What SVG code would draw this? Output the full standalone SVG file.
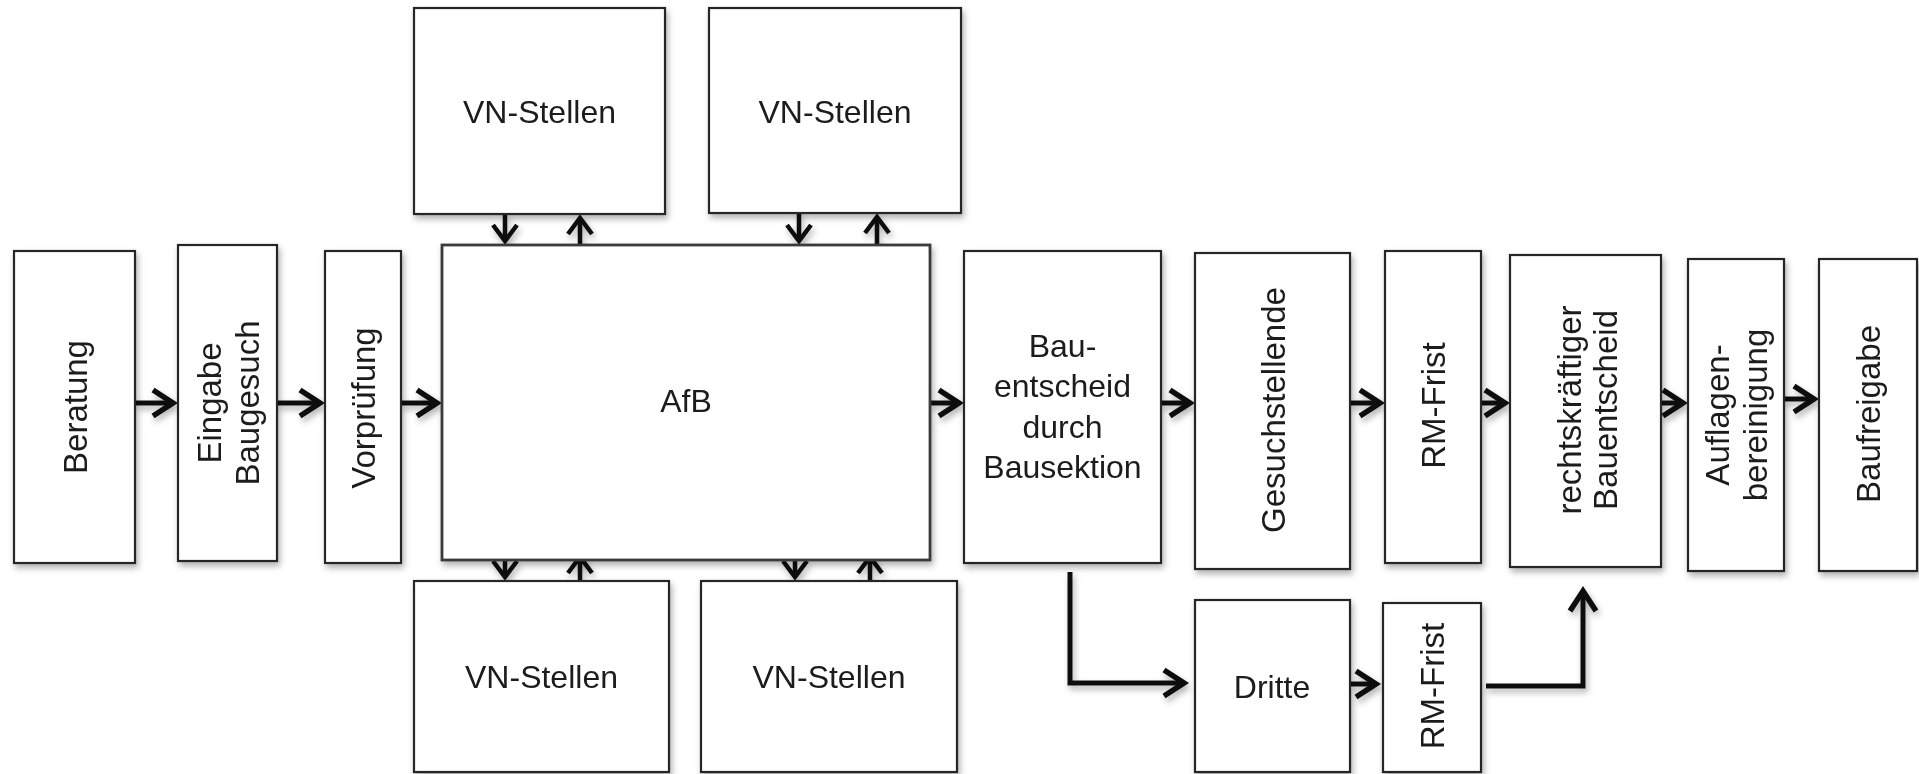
<svg xmlns="http://www.w3.org/2000/svg" width="1919" height="774" viewBox="0 0 1919 774">
<defs>
<filter id="sh" x="-10%" y="-10%" width="130%" height="130%">
<feDropShadow dx="2" dy="4" stdDeviation="3" flood-color="#000" flood-opacity="0.3"/>
</filter>
<marker id="arr" markerUnits="userSpaceOnUse" markerWidth="32" markerHeight="32" viewBox="0 0 32 32" refX="23" refY="16" orient="auto" overflow="visible">
<path d="M3,3 L23,16 L3,29" fill="none" stroke="#111" stroke-width="5.5"/>
</marker>
<marker id="arrS" markerUnits="userSpaceOnUse" markerWidth="28" markerHeight="28" viewBox="0 0 28 28" refX="20" refY="14" orient="auto" overflow="visible">
<path d="M4,2 L20,14 L4,26" fill="none" stroke="#111" stroke-width="4.5"/>
</marker>
</defs>
<style>
.box{fill:#fff;stroke:#262626;stroke-width:2.2}
.big{fill:#fff;stroke:#3a3a3a;stroke-width:2.8}
.t{font-family:"Liberation Sans",Arial,sans-serif;font-size:32px;fill:#1a1a1a;text-anchor:middle}
.r{font-family:"Liberation Sans",Arial,sans-serif;font-size:33px;fill:#1a1a1a;text-anchor:middle}
.c{fill:none;stroke:#111;stroke-width:5}
.cs{fill:none;stroke:#111;stroke-width:4.5}
</style>
<rect width="1919" height="774" fill="#fff"/>

<g id="connectors" filter="url(#sh)">
<path class="c" d="M135,403 H173" marker-end="url(#arr)"/>
<path class="c" d="M277,403 H320" marker-end="url(#arr)"/>
<path class="c" d="M401,403 H437" marker-end="url(#arr)"/>
<path class="c" d="M930,403 H959" marker-end="url(#arr)"/>
<path class="c" d="M1161,403 H1190" marker-end="url(#arr)"/>
<path class="c" d="M1350,403 H1380" marker-end="url(#arr)"/>
<path class="c" d="M1481,403 H1505" marker-end="url(#arr)"/>
<path class="c" d="M1661,403 H1683" marker-end="url(#arr)"/>
<path class="c" d="M1784,399 H1814" marker-end="url(#arr)"/>
<path class="cs" d="M505,214 V241" marker-end="url(#arrS)"/>
<path class="cs" d="M580,245 V218" marker-end="url(#arrS)"/>
<path class="cs" d="M799,213 V241" marker-end="url(#arrS)"/>
<path class="cs" d="M877,245 V217" marker-end="url(#arrS)"/>
<path class="cs" d="M505,560 V577" marker-end="url(#arrS)"/>
<path class="cs" d="M580,581 V557" marker-end="url(#arrS)"/>
<path class="cs" d="M795,560 V577" marker-end="url(#arrS)"/>
<path class="cs" d="M870,581 V557" marker-end="url(#arrS)"/>
<path class="c" d="M1070,572 V683 H1184" marker-end="url(#arr)"/>
<path class="c" d="M1350,684 H1376" marker-end="url(#arr)"/>
<path class="c" d="M1486,686 H1583 V591" marker-end="url(#arr)"/>
</g>

<g id="beratung" filter="url(#sh)">
<rect class="box" x="14" y="251" width="121" height="312"/>
<text class="r" transform="translate(74.5,407) rotate(-90)" x="0" y="12">Beratung</text>
</g>
<g id="eingabe-baugesuch" filter="url(#sh)">
<rect class="box" x="178" y="245" width="99" height="316"/>
<text class="r" transform="translate(227.5,403) rotate(-90)"><tspan x="0" y="-7">Eingabe</tspan><tspan x="0" y="31">Baugesuch</tspan></text>
</g>
<g id="vorpruefung" filter="url(#sh)">
<rect class="box" x="325" y="251" width="76" height="312"/>
<text class="r" transform="translate(363,408) rotate(-90)" x="0" y="12">Vorprüfung</text>
</g>
<g id="afb" filter="url(#sh)">
<rect class="big" x="442" y="245" width="488" height="315"/>
<text class="t" x="686" y="412">AfB</text>
</g>
<g id="vn-stellen-top-1" filter="url(#sh)">
<rect class="box" x="414" y="8" width="251" height="206"/>
<text class="t" x="539.5" y="123">VN-Stellen</text>
</g>
<g id="vn-stellen-top-2" filter="url(#sh)">
<rect class="box" x="709" y="8" width="252" height="205"/>
<text class="t" x="835" y="123">VN-Stellen</text>
</g>
<g id="vn-stellen-bottom-1" filter="url(#sh)">
<rect class="box" x="414" y="581" width="255" height="191"/>
<text class="t" x="541.5" y="688">VN-Stellen</text>
</g>
<g id="vn-stellen-bottom-2" filter="url(#sh)">
<rect class="box" x="701" y="581" width="256" height="191"/>
<text class="t" x="829" y="688">VN-Stellen</text>
</g>
<g id="bauentscheid" filter="url(#sh)">
<rect class="box" x="964" y="251" width="197" height="312"/>
<text class="t"><tspan x="1062.5" y="357">Bau-</tspan><tspan x="1062.5" y="397">entscheid</tspan><tspan x="1062.5" y="438">durch</tspan><tspan x="1062.5" y="478">Bausektion</tspan></text>
</g>
<g id="gesuchstellende" filter="url(#sh)">
<rect class="box" x="1195" y="253" width="155" height="316"/>
<text class="r" transform="translate(1272.5,410) rotate(-90)" x="0" y="12">Gesuchstellende</text>
</g>
<g id="rm-frist-1" filter="url(#sh)">
<rect class="box" x="1385" y="251" width="96" height="312"/>
<text class="r" transform="translate(1433,405.5) rotate(-90)" x="0" y="12">RM-Frist</text>
</g>
<g id="rechtskraeftiger-bauentscheid" filter="url(#sh)">
<rect class="box" x="1510" y="255" width="151" height="312"/>
<text class="r" transform="translate(1585.5,410) rotate(-90)"><tspan x="0" y="-5">rechtskräftiger</tspan><tspan x="0" y="31">Bauentscheid</tspan></text>
</g>
<g id="auflagenbereinigung" filter="url(#sh)">
<rect class="box" x="1688" y="259" width="96" height="312"/>
<text class="r" transform="translate(1736,415) rotate(-90)"><tspan x="0" y="-7">Auflagen-</tspan><tspan x="0" y="31">bereinigung</tspan></text>
</g>
<g id="baufreigabe" filter="url(#sh)">
<rect class="box" x="1819" y="259" width="98" height="312"/>
<text class="r" transform="translate(1868,414) rotate(-90)" x="0" y="12">Baufreigabe</text>
</g>
<g id="dritte" filter="url(#sh)">
<rect class="box" x="1195" y="600" width="155" height="172"/>
<text class="t" x="1272" y="698">Dritte</text>
</g>
<g id="rm-frist-2" filter="url(#sh)">
<rect class="box" x="1383" y="603" width="98" height="169"/>
<text class="r" transform="translate(1432,686) rotate(-90)" x="0" y="12">RM-Frist</text>
</g>
</svg>
